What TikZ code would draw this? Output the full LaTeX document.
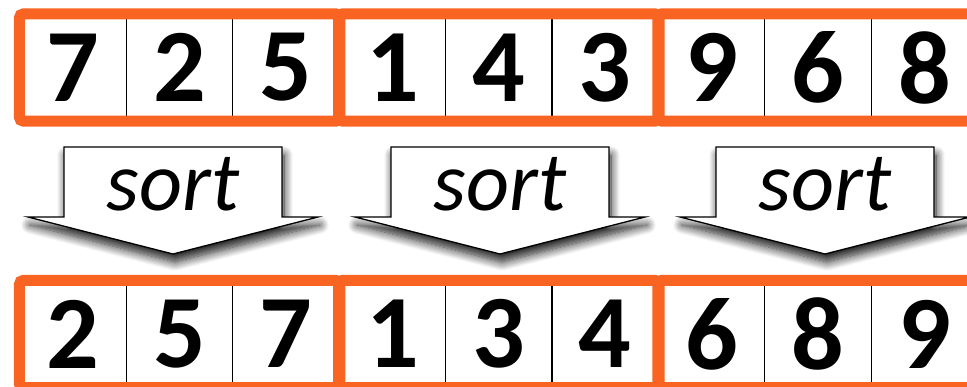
\documentclass[tikz,border=0pt]{standalone}
\usepackage{fontspec}
\setmainfont{Carlito}
\usetikzlibrary{shadows.blur}

\definecolor{runorange}{RGB}{250,100,35}

\tikzset{
  cell/.style={draw, fill=white, line width=1.2pt, minimum width=106.4pt,
    minimum height=106pt, inner sep=0pt,
    font=\fontsize{104}{104}\selectfont\bfseries},
  run/.style={draw=runorange, line width=11pt, rounded corners=4pt},
  sortarrow/.style={draw, fill=white, line width=1.3pt,
    blur shadow={shadow xshift=2pt, shadow yshift=-8pt,
      shadow blur radius=9pt, shadow blur steps=12, shadow opacity=90}},
  sortlabel/.style={inner sep=0pt, font=\fontsize{84}{84}\selectfont\itshape}
}

\begin{document}
\begin{tikzpicture}[x=1pt, y=-1pt]
    % Picture frame
    \path[clip] (0,0) rectangle (967,386);
    \useasboundingbox (0,0) rectangle (967,386);

    % The sort arrows (drawn first, the shadow runs under the rows)
    \foreach \x [count=\k] in {173,500,825} {
        \draw[sortarrow] (\x-109,147) -- (\x+109,147) -- (\x+109,217)
            -- (\x+145,217) -- (\x,254) -- (\x-145,217) -- (\x-109,217) -- cycle;
        \node[sortlabel] (s\k) at (\x,184) {sort};
    }

    % Unsorted row
    \foreach \d [count=\i] in {7,2,5,1,4,3,9,6,8}
        \node[cell] (t\i) at ({20+106.4*(\i-0.5)},67.5) {\d};

    % Sorted row
    \foreach \d [count=\i] in {2,5,7,1,3,4,6,8,9}
        \node[cell] (b\i) at ({20+106.4*(\i-0.5)},334) {\d};

    % Orange frames round each run of three
    \foreach \a/\b in {1/3,4/6,7/9} {
        \draw[run] (t\a.north west) rectangle (t\b.south east);
        \draw[run] (b\a.north west) rectangle (b\b.south east);
    }
\end{tikzpicture}
\end{document}
